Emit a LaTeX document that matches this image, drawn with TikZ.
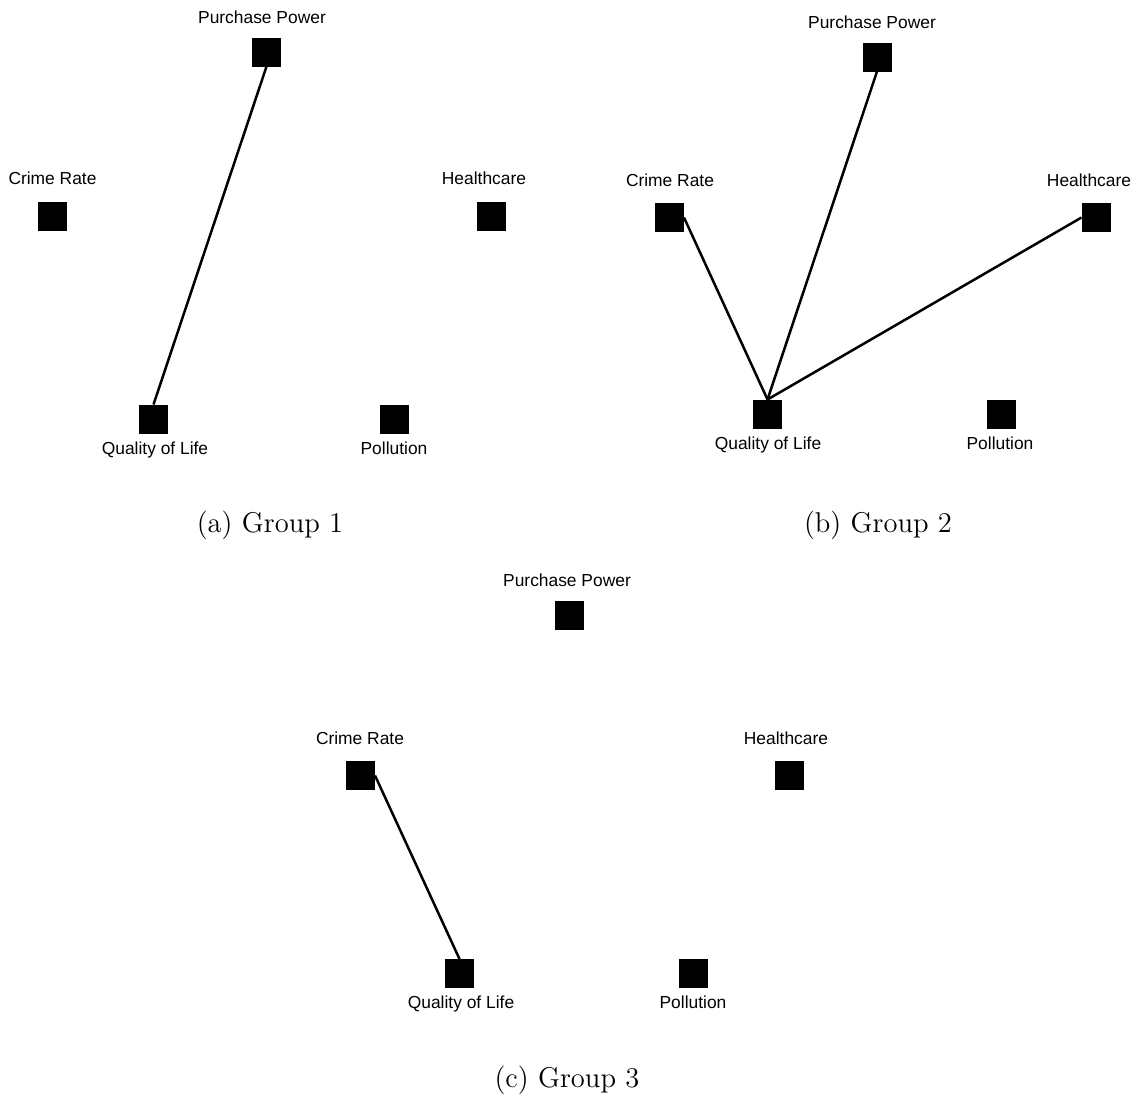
\documentclass[tikz,border=0pt]{standalone}
\usepackage{fontspec}
\newfontfamily\labelfont{Liberation Sans}
\begin{document}
\begin{tikzpicture}[x=0.5pt,y=-0.5pt,
  sq/.style={fill=black,draw=none,minimum size=14.5pt,inner sep=0pt,outer sep=0pt},
  lab/.style={font=\labelfont\fontsize{8.7}{10}\selectfont,inner sep=0pt,anchor=base},
  captext/.style={font=\fontsize{14.3}{17}\selectfont,inner sep=0pt,anchor=base},
  link/.style={line width=1.25pt,black}]
\useasboundingbox (0,0) rectangle (1135,1104);
% Group 1
\node[sq] (pp1) at (266.5,52) {};
\node[sq] (cr1) at (52.5,216.5) {};
\node[sq] (hc1) at (491,216.5) {};
\node[sq] (qol1) at (153.5,419) {};
\node[sq] (pol1) at (394.5,419) {};
\node[lab] (lpp1) at (262,23) {Purchase Power};
\node[lab] (lcr1) at (52.5,184.5) {Crime Rate};
\node[lab] (lhc1) at (484,184.5) {Healthcare};
\node[lab] (lqol1) at (155,454.5) {Quality of Life};
\node[lab] (lpol1) at (394,454.5) {Pollution};
\draw[link] (pp1.south) -- (qol1.north);
\node[captext] (capa) at (270,532) {(a) Group 1};
% Group 2
\node[sq] (pp2) at (877,57) {};
\node[sq] (cr2) at (669.5,217.5) {};
\node[sq] (hc2) at (1096,217.5) {};
\node[sq] (qol2) at (767.5,414) {};
\node[sq] (pol2) at (1001.5,414) {};
\node[lab] (lpp2) at (872,28) {Purchase Power};
\node[lab] (lcr2) at (670,186.5) {Crime Rate};
\node[lab] (lhc2) at (1089,186.5) {Healthcare};
\node[lab] (lqol2) at (768,449.5) {Quality of Life};
\node[lab] (lpol2) at (1000,449.5) {Pollution};
\draw[link] (cr2.east) -- (qol2.north);
\draw[link] (pp2.south) -- (qol2.north);
\draw[link] (hc2.west) -- (qol2.north);
\node[captext] (capb) at (878,532) {(b) Group 2};
% Group 3
\node[sq] (pp3) at (569.5,615) {};
\node[sq] (cr3) at (360.5,775.5) {};
\node[sq] (hc3) at (789.5,775.5) {};
\node[sq] (qol3) at (459.5,973.5) {};
\node[sq] (pol3) at (693.5,973.5) {};
\node[lab] (lpp3) at (567,586) {Purchase Power};
\node[lab] (lcr3) at (360,744.5) {Crime Rate};
\node[lab] (lhc3) at (786,744.5) {Healthcare};
\node[lab] (lqol3) at (461,1008.5) {Quality of Life};
\node[lab] (lpol3) at (693,1008.5) {Pollution};
\draw[link] (cr3.east) -- (qol3.north);
\node[captext] (capc) at (567,1087) {(c) Group 3};
\end{tikzpicture}
\end{document}
